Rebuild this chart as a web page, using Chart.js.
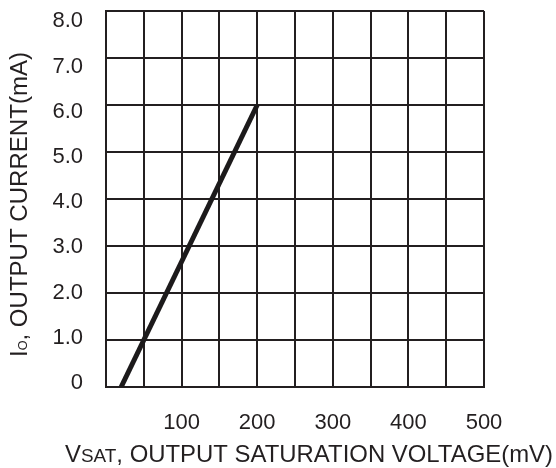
<!DOCTYPE html>
<html>
<head>
<meta charset="utf-8">
<script src="https://cdn.jsdelivr.net/npm/chart.js@4.4.1/dist/chart.umd.min.js"></script>
<style>
  html, body { margin: 0; padding: 0; background: #fff; }
  #wrap { width: 556px; height: 468px; }
</style>
</head>
<body>
<div id="wrap"><canvas id="chart"></canvas></div>
<script>
// output saturation voltage (mV) vs output current (mA)
var vsat = [20, 200];
var iout = [0, 6.0];

var xTickValues = [100, 200, 300, 400, 500];
var yTickLabels = ['0', '1.0', '2.0', '3.0', '4.0', '5.0', '6.0', '7.0', '8.0'];

var ink = '#231f20';
var font = '"Liberation Sans", Arial, sans-serif';

// axis titles with the small subscript parts
var titlePlugin = {
  id: 'titles',
  afterDraw: function(chart) {
    var ctx = chart.ctx;
    ctx.save();
    ctx.fillStyle = ink;
    ctx.textBaseline = 'alphabetic';
    ctx.textAlign = 'left';

    var parts = function(list, x, y, targetW) {
      var w = 0;
      list.forEach(function(p) { ctx.font = p[1] + 'px ' + font; w += ctx.measureText(p[0]).width; });
      var sx = targetW ? targetW / w : 1;
      ctx.save();
      ctx.translate(x, y);
      ctx.scale(sx, 1);
      var cx = 0;
      list.forEach(function(p) {
        ctx.font = p[1] + 'px ' + font;
        ctx.fillText(p[0], cx, 0);
        cx += ctx.measureText(p[0]).width;
      });
      ctx.restore();
    };

    parts([['V', 24], ['SAT', 19], [', OUTPUT SATURATION VOLTAGE(mV)', 24]], 65, 462, 488);

    ctx.save();
    ctx.translate(27, 357);
    ctx.rotate(-Math.PI / 2);
    parts([['I', 23], ['O', 12], [', OUTPUT CURRENT(mA)', 23]], 0, 0, 305);
    ctx.restore();

    ctx.restore();
  }
};

new Chart(document.getElementById('chart'), {
  type: 'scatter',
  data: {
    datasets: [{
      data: vsat.map(function(v, i) { return {x: v, y: iout[i]}; }),
      showLine: true,
      borderColor: '#1c1a1b',
      borderWidth: 5,
      pointRadius: 0,
      borderCapStyle: 'butt'
    }]
  },
  options: {
    responsive: true,
    maintainAspectRatio: false,
    animation: false,
    plugins: { legend: { display: false }, tooltip: { enabled: false } },
    layout: { padding: { left: 0, top: 11, right: 72, bottom: 0 } },
    scales: {
      x: {
        type: 'linear',
        min: 0,
        max: 500,
        grid: { color: ink, lineWidth: 2, drawTicks: false },
        border: { color: ink, width: 2 },
        ticks: {
          stepSize: 50,
          padding: 23,
          color: ink,
          font: { family: font, size: 22 },
          maxRotation: 0,
          autoSkip: false,
          callback: function(v) { return xTickValues.indexOf(v) >= 0 ? String(v) : ''; }
        },
        afterFit: function(s) { s.height = 81; s.paddingLeft = 0; s.paddingRight = 0; }
      },
      y: {
        type: 'linear',
        position: 'left',
        weight: 0,
        min: 0,
        max: 8,
        grid: { color: ink, lineWidth: 2, drawTicks: false },
        border: { color: ink, width: 2 },
        ticks: { stepSize: 1, display: false },
        afterFit: function(s) { s.width = 0; s.paddingTop = 0; s.paddingBottom = 0; }
      },
      yl: {
        type: 'linear',
        position: 'left',
        weight: 1,
        min: -0.0885,
        max: 8.23,
        grid: { display: false, drawTicks: false },
        border: { display: false },
        ticks: {
          stepSize: 1,
          padding: 23,
          color: ink,
          font: { family: font, size: 22 },
          callback: function(v) { return yTickLabels[v] !== undefined && v === Math.round(v) ? yTickLabels[v] : ''; }
        },
        afterBuildTicks: function(s) {
          s.ticks = yTickLabels.map(function(l, i) { return {value: i}; });
        },
        afterFit: function(s) { s.width = 106; s.paddingTop = 0; s.paddingBottom = 0; }
      }
    }
  },
  plugins: [titlePlugin]
});
</script>
</body>
</html>
